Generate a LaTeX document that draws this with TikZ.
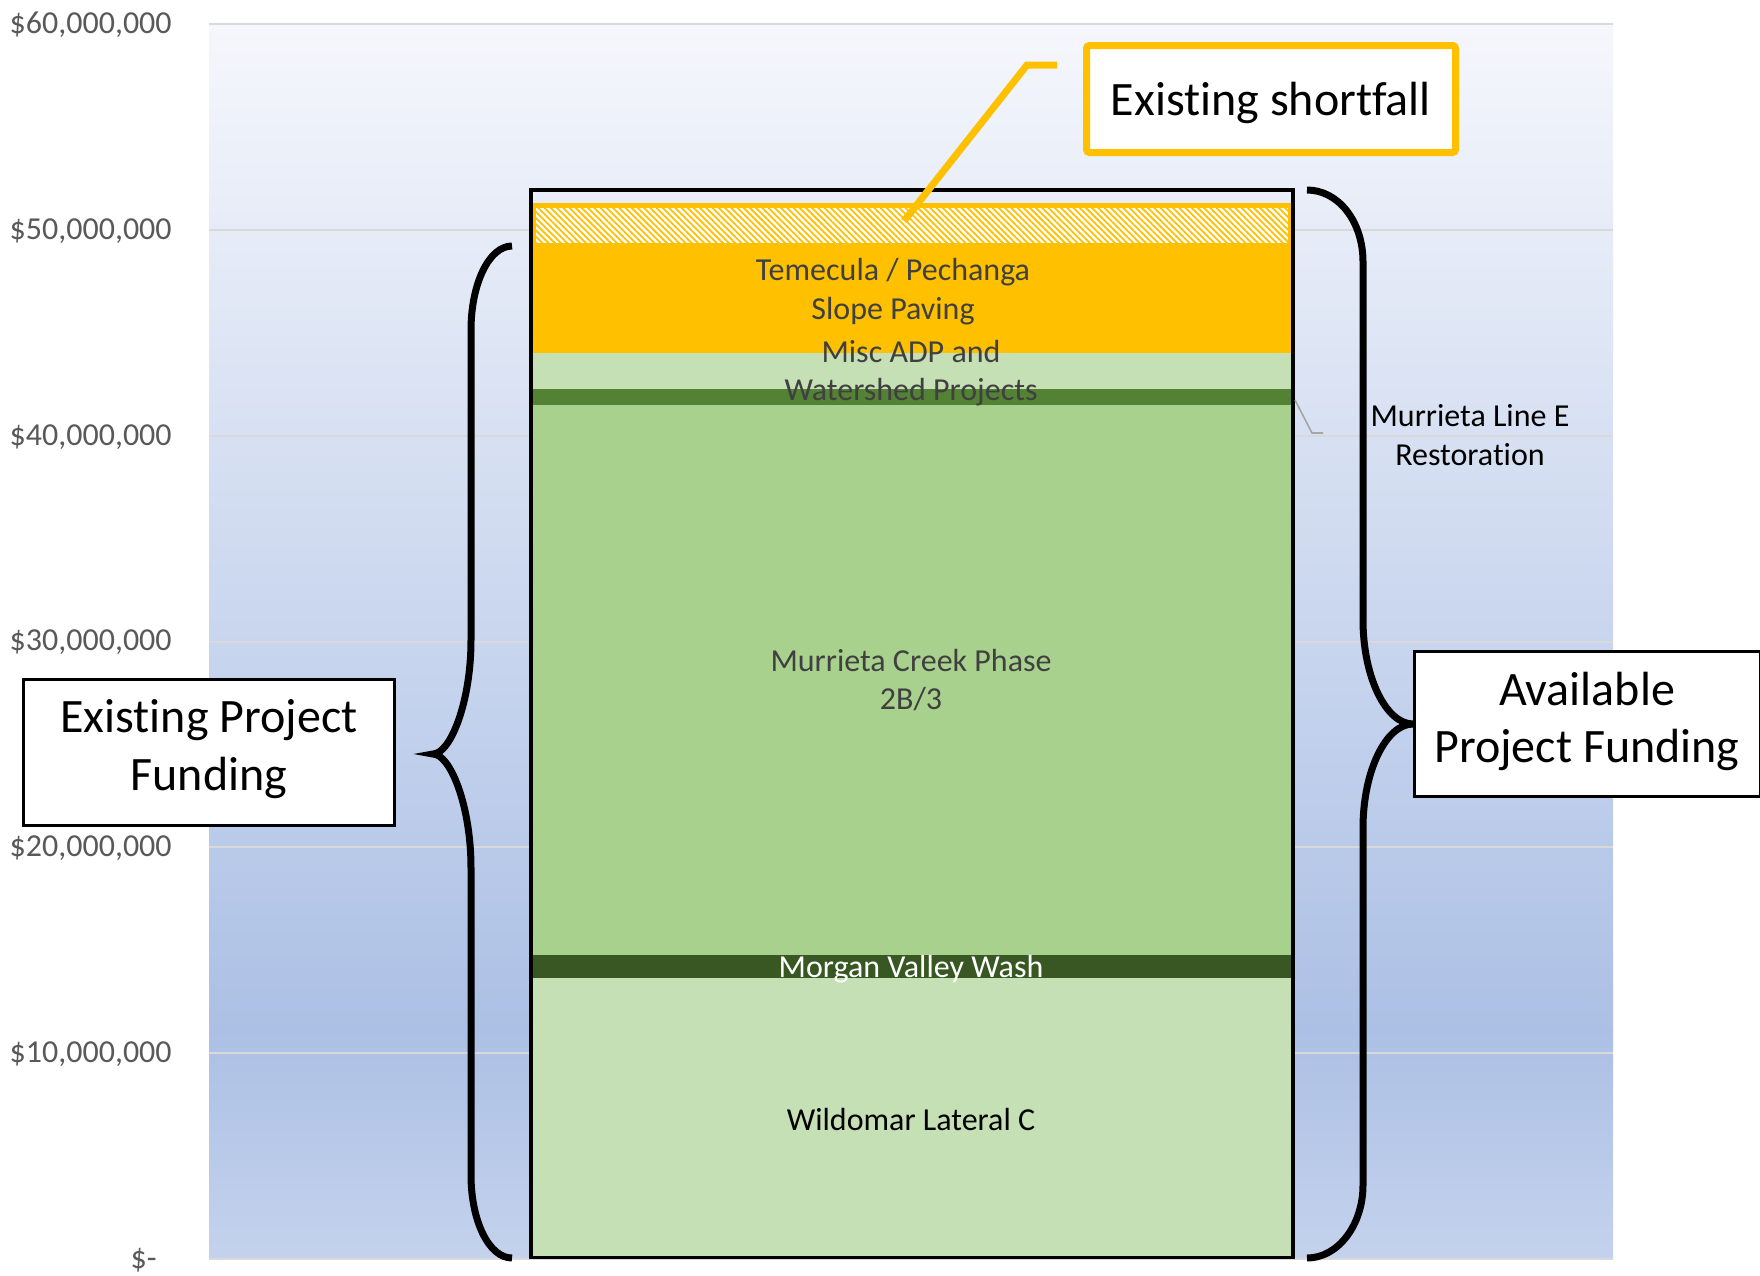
\documentclass[tikz,border=0pt]{standalone}
\usepackage{fontspec}
\setmainfont[Ligatures=NoCommon]{Carlito}
\usetikzlibrary{patterns.meta}

\definecolor{gold}{HTML}{FFC000}
\definecolor{lgreen}{HTML}{C5E0B4}
\definecolor{mgreen}{HTML}{A9D18E}
\definecolor{dgreen}{HTML}{548235}
\definecolor{xgreen}{HTML}{385723}
\definecolor{axisgray}{HTML}{595959}
\definecolor{labgray}{HTML}{404040}
\definecolor{gridgray}{HTML}{D9D9D9}
\definecolor{leadgray}{HTML}{A6A6A6}
\definecolor{bgtop}{HTML}{F5F7FC}
\definecolor{bgmid}{HTML}{ACC0E5}
\definecolor{bgbot}{HTML}{C4D2EC}

\tikzset{
  axislab/.style={anchor=base east, inner sep=0pt, text=axisgray, font=\fontsize{16}{19}\selectfont},
  barlab/.style={anchor=base, inner sep=0pt, font=\fontsize{16}{19}\selectfont},
  biglab/.style={anchor=base, inner sep=0pt, font=\fontsize{24}{29}\selectfont},
  gridline/.style={draw=gridgray, line width=1pt},
  brace/.style={draw=black, line width=3.5pt},
  callout/.style={draw=black, line width=1.5pt, fill=white, inner sep=0pt},
}

\begin{document}
\begin{tikzpicture}[x=0.5pt, y=-0.5pt]
  % canvas (coordinates in pixels, y downwards)
  \path[clip] (0,0) rectangle (1760,1275);
  \fill[white] (0,0) rectangle (1760,1275);

  % plot area with vertical gradient
  \shade[top color=bgtop, bottom color=bgmid] (209,24) rectangle (1613,1031);
  \shade[top color=bgmid, bottom color=bgbot] (209,1030) rectangle (1613,1259);

  % horizontal gridlines every $10M
  \foreach \v in {0,...,6}
    \draw[gridline] (209,{1259-\v*205.83}) -- (1613,{1259-\v*205.83});

  % value axis labels
  \node[axislab] (y6) at (172,33)   {\$60,000,000};
  \node[axislab] (y5) at (172,239)  {\$50,000,000};
  \node[axislab] (y4) at (172,445)  {\$40,000,000};
  \node[axislab] (y3) at (172,650)  {\$30,000,000};
  \node[axislab] (y2) at (172,856)  {\$20,000,000};
  \node[axislab] (y1) at (172,1062) {\$10,000,000};
  \node[axislab] (y0) at (157,1268) {\$-};

  % stacked funding column
  \fill[gold]   (531,244) rectangle (1293,353);
  \fill[lgreen] (531,353) rectangle (1293,389);
  \fill[dgreen] (531,389) rectangle (1293,405);
  \fill[mgreen] (531,405) rectangle (1293,955);
  \fill[xgreen] (531,955) rectangle (1293,978);
  \fill[lgreen] (531,978) rectangle (1293,1259);

  % shortfall segment (hatched)
  \fill[white] (533.5,205.5) rectangle (1290.5,245);
  \path[pattern={Lines[angle=-45,distance=2.2pt,line width=0.9pt]}, pattern color=gold]
    (533.5,205.5) rectangle (1290.5,245);
  \draw[gold, line width=2.5pt] (533.5,205.5) rectangle (1290.5,245);

  % outline round the column
  \draw[black, line width=1.75pt] (531,190) rectangle (1293,1257.5);

  % segment labels
  \node[barlab, text=labgray] (tem1) at (893,280) {Temecula / Pechanga};
  \node[barlab, text=labgray] (tem2) at (893,319) {Slope Paving};
  \node[barlab, text=labgray] (misc1) at (911,362) {Misc ADP and};
  \node[barlab, text=labgray] (misc2) at (911,400) {Watershed Projects};
  \node[barlab, text=labgray] (mc1) at (911,671) {Murrieta Creek Phase};
  \node[barlab, text=labgray] (mc2) at (911,709) {2B/3};
  \node[barlab, text=white] (mvw) at (911,977) {Morgan Valley Wash};
  \node[barlab, text=black] (wlc) at (911,1130) {Wildomar Lateral C};

  % Murrieta Line E label with its leader
  \node[barlab, text=black] (mle1) at (1470,426) {Murrieta Line E};
  \node[barlab, text=black] (mle2) at (1470,465) {Restoration};
  \coordinate (mle-from) at (1295,400);
  \coordinate (mle-bend) at (1312,433);
  \coordinate (mle-to) at (1323,433);
  \draw[leadgray, line width=0.8pt] (mle-from) -- (mle-bend) -- (mle-to);

  % left brace: existing project funding
  \draw[brace] (512,246) .. controls (489,246) and (471,284) .. (471,330)
    -- (471,640) .. controls (471,703) and (450,754) .. (433,754)
    .. controls (450,754) and (471,805) .. (471,868)
    -- (471,1175) .. controls (471,1221) and (489,1258) .. (512,1258);

  % right brace: available project funding
  \draw[brace] (1307,190) .. controls (1338,190) and (1363,221) .. (1363,262)
    -- (1363,620) .. controls (1363,677) and (1386,724) .. (1413,724)
    .. controls (1386,724) and (1363,771) .. (1363,828)
    -- (1363,1185) .. controls (1363,1225) and (1338,1258) .. (1307,1258);

  % callout boxes
  \node[callout, minimum width=185.5pt, minimum height=73pt] (epf) at (209,752.5) {};
  \node[biglab] (epf1) at (209,732) {Existing Project};
  \node[biglab] (epf2) at (209,790) {Funding};

  \node[callout, minimum width=173pt, minimum height=72.5pt] (apf) at (1587.5,724) {};
  \node[biglab] (apf1) at (1587,705) {Available};
  \node[biglab] (apf2) at (1587,762) {Project Funding};

  % shortfall callout and its leader
  \node[draw=gold, line width=3.5pt, fill=white, rounded corners=1.5pt, inner sep=0pt,
        minimum width=184.5pt, minimum height=53.5pt] (sf) at (1271,99) {};
  \node[biglab] (sftext) at (1271,115) {Existing shortfall};
  \coordinate (sf-tail) at (1057,65);
  \coordinate (sf-bend) at (1027,65);
  \coordinate (sf-tip) at (904,221);
  \draw[gold, line width=3.5pt] (sf-tail) -- (sf-bend) -- (sf-tip);
\end{tikzpicture}
\end{document}
